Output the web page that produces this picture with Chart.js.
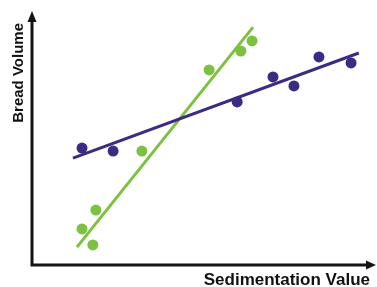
<!DOCTYPE html>
<html>
<head>
<meta charset="utf-8">
<script src="https://cdn.jsdelivr.net/npm/chart.js@4/dist/chart.umd.min.js"></script>
<style>
  html, body { margin: 0; padding: 0; background: #fff; }
  #wrap { width: 377px; height: 287px; }
</style>
</head>
<body>
<div id="wrap"><canvas id="chart"></canvas></div>
<script>
// values (arbitrary units, 0-10 on both axes)
var purpleX = [1.48, 2.40, 6.07, 7.13, 7.75, 8.49, 9.44];
var purpleY = [4.83, 4.71, 6.74, 7.77, 7.40, 8.60, 8.35];
var greenX = [1.48, 1.80, 1.89, 3.25, 5.24, 6.18, 6.51];
var greenY = [1.49, 0.83, 2.27, 4.71, 8.06, 8.84, 9.26];

// trend line end points
var purpleLineX = [1.21, 9.67];
var purpleLineY = [4.42, 8.76];
var greenLineX = [1.33, 6.54];
var greenLineY = [0.74, 9.83];

var purple = '#3c2b82';
var green = '#7dc142';

function toPoints(xs, ys) {
     return xs.map(function (x, i) { return { x: x, y: ys[i] }; });
}

// axis lines with arrow heads
var axesPlugin = {
     id: 'axes',
     afterDraw: function (chart) {
          var ctx = chart.ctx;
          var x0 = 32, y0 = 265;
          ctx.save();
          ctx.strokeStyle = '#141414';
          ctx.fillStyle = '#141414';
          ctx.lineWidth = 3;
          ctx.beginPath();
          ctx.moveTo(x0, y0);
          ctx.lineTo(x0, 20);
          ctx.moveTo(x0 - 1.5, y0);
          ctx.lineTo(368, y0);
          ctx.stroke();
          // up arrow
          ctx.beginPath();
          ctx.moveTo(x0, 11);
          ctx.lineTo(x0 - 4.5, 22);
          ctx.lineTo(x0 + 4.5, 22);
          ctx.closePath();
          ctx.fill();
          // right arrow
          ctx.beginPath();
          ctx.moveTo(376, y0);
          ctx.lineTo(366, y0 - 4.5);
          ctx.lineTo(366, y0 + 4.5);
          ctx.closePath();
          ctx.fill();
          ctx.restore();
     }
};

var chart = new Chart(document.getElementById('chart'), {
     type: 'scatter',
     data: {
          datasets: [
               {
                    data: toPoints(purpleX, purpleY),
                    backgroundColor: purple,
                    borderWidth: 0,
                    pointRadius: 5.5
               },
               {
                    data: toPoints(greenX, greenY),
                    backgroundColor: green,
                    borderWidth: 0,
                    pointRadius: 5.5
               },
               {
                    data: toPoints(purpleLineX, purpleLineY),
                    showLine: true,
                    borderColor: purple,
                    borderWidth: 3,
                    pointRadius: 0
               },
               {
                    data: toPoints(greenLineX, greenLineY),
                    showLine: true,
                    borderColor: green,
                    borderWidth: 3,
                    pointRadius: 0
               }
          ]
     },
     options: {
          responsive: true,
          maintainAspectRatio: false,
          animation: false,
          layout: { padding: { top: 23, right: 7, left: 0, bottom: 0 } },
          plugins: {
               legend: { display: false },
               tooltip: { enabled: false }
          },
          scales: {
               x: {
                    type: 'linear',
                    min: 0,
                    max: 10,
                    grid: { display: false, drawTicks: false },
                    border: { display: false },
                    ticks: { display: false },
                    title: {
                         display: true,
                         text: 'Sedimentation Value',
                         align: 'end',
                         color: '#111',
                         font: { family: 'Liberation Sans, Arial, sans-serif', size: 17, weight: 'bold', lineHeight: 1 },
                         padding: { top: 0, bottom: -2 }
                    },
                    afterFit: function (scale) { scale.height = 22; }
               },
               y: {
                    type: 'linear',
                    min: 0,
                    max: 10,
                    grid: { display: false, drawTicks: false },
                    border: { display: false },
                    ticks: { display: false },
                    title: {
                         display: true,
                         text: 'Bread Volume',
                         align: 'end',
                         color: '#111',
                         font: { family: 'Liberation Sans, Arial, sans-serif', size: 15, weight: 'bold', lineHeight: 1.2 },
                         padding: { top: 10, bottom: 0 }
                    },
                    afterFit: function (scale) { scale.width = 32; }
               }
          }
     },
     plugins: [axesPlugin]
});
</script>
</body>
</html>
